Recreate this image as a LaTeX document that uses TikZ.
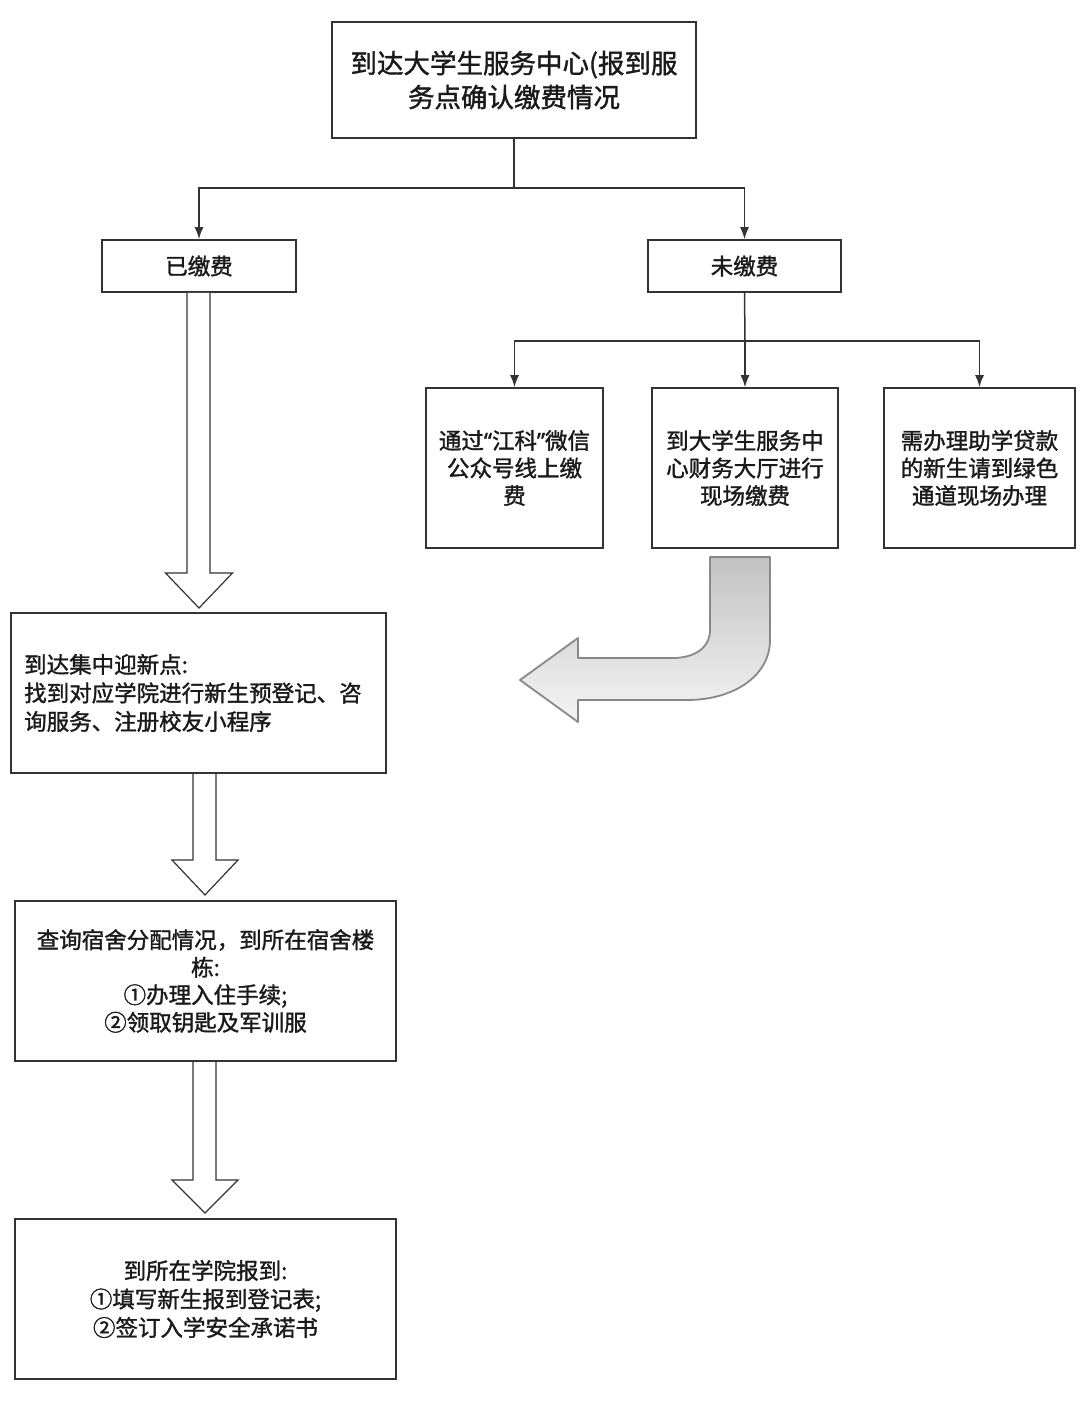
\documentclass[tikz,border=0pt]{standalone}
\usepackage{fontspec}
\newfontfamily\cjk[FakeBold=1.4]{Noto Sans CJK SC}
\newfontfamily\latq[FakeBold=1.4]{Noto Sans}
\usetikzlibrary{arrows.meta,calc}
\definecolor{ln}{HTML}{333333}
\definecolor{tx}{HTML}{1A1A1A}
\definecolor{ag}{HTML}{888888}
\begin{document}
\begin{tikzpicture}[x=1pt,y=-1pt,
  box/.style={draw=ln,line width=1.6pt,fill=white,inner sep=0pt,text=tx,
    font=\cjk\fontsize{22.5}{27.5}\selectfont,align=center},
  conn/.style={draw=ln,line width=1.5pt,-{Latex[length=12pt,width=9pt]}},
  hollow/.style={draw=ln,line width=1.2pt,fill=white,line join=miter}]
\useasboundingbox (0,0) rectangle (1080,1404);
\fill[white] (0,0) rectangle (1080,1404);

\node[box,minimum width=364pt,minimum height=116pt,font=\cjk\fontsize{26.5}{34}\selectfont] (top) at (514,80) {到达大学生服务中心(报到服\\务点确认缴费情况};
\node[box,minimum width=194pt,minimum height=52pt] (paid) at (199,266) {已缴费};
\node[box,minimum width=193pt,minimum height=52pt] (unpaid) at (744.5,266) {未缴费};

\node[box,minimum width=177pt,minimum height=160pt] (opt1) at (514.5,468) {通过{\latq “}江科{\latq ”}微信\\公众号线上缴\\费};
\node[box,minimum width=186pt,minimum height=160pt] (opt2) at (745,468) {到大学生服务中\\心财务大厅进行\\现场缴费};
\node[box,minimum width=191pt,minimum height=160pt] (opt3) at (979.5,468) {需办理助学贷款\\的新生请到绿色\\通道现场办理};

\node[box,minimum width=375pt,minimum height=160pt] (meet) at (198.5,693) {};
\node[anchor=west,text=tx,font=\cjk\fontsize{22.5}{28.5}\selectfont,align=left,inner sep=0pt] (meettext) at (24,693) {到达集中迎新点:\\找到对应学院进行新生预登记、咨\\询服务、注册校友小程序};

\node[box,minimum width=381pt,minimum height=160pt] (dorm) at (205.5,981) {查询宿舍分配情况，到所在宿舍楼\\栋:\\①办理入住手续;\\②领取钥匙及军训服};
\node[box,minimum width=381pt,minimum height=160pt,font=\cjk\fontsize{22.5}{28.5}\selectfont] (college) at (205.5,1299) {到所在学院报到:\\①填写新生报到登记表;\\②签订入学安全承诺书};

% connectors
\coordinate (j1) at (514,188);
\draw[draw=ln,line width=1.5pt] (top.south) -- (j1);
\draw[conn] (j1) -| (paid.north);
\draw[conn] (j1) -| (unpaid.north);
\coordinate (j2) at (745,341);
\draw[draw=ln,line width=1.5pt] (unpaid.south) -- (j2);
\draw[conn] (j2) -| (opt1.north);
\draw[conn] (j2) -- (opt2.north);
\draw[conn] (j2) -| (opt3.north);

% hollow arrows
\draw[hollow] (187,293) -- (187,573) -- (165.5,573) -- (199,608) -- (232.5,573) -- (210,573) -- (210,293);
\draw[hollow] (193,774) -- (193,860) -- (172,860) -- (205,895) -- (238,860) -- (216,860) -- (216,774);
\draw[hollow] (193,1062) -- (193,1180) -- (172,1180) -- (205,1213) -- (238,1180) -- (216,1180) -- (216,1062);

% curved gray arrow
\draw[draw=ag,line width=1.8pt,line join=round,top color=black!24,bottom color=black!4]
  (710,557) -- (770,557) -- (770,640)
  .. controls (770,675) and (735,700) .. (687,700)
  -- (578,700) -- (578,722) -- (520,680) -- (578,638) -- (578,658) -- (673,658)
  .. controls (694,658) and (710,648) .. (710,630) -- cycle;
\end{tikzpicture}
\end{document}
